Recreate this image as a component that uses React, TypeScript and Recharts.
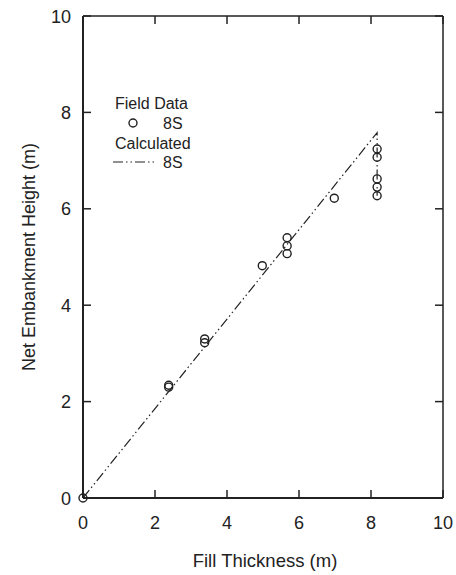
import {
  ScatterChart,
  Scatter,
  XAxis,
  YAxis,
  Legend,
} from "recharts";

// field data points (fill thickness m, net embankment height m)
const fieldX = [0, 2.38, 2.38, 3.38, 3.38, 4.98, 5.67, 5.67, 5.67, 6.98, 8.17, 8.17, 8.17, 8.17, 8.17];
const fieldY = [0, 2.34, 2.3, 3.22, 3.3, 4.82, 5.4, 5.23, 5.07, 6.22, 7.24, 7.07, 6.62, 6.45, 6.27];

// calculated curve
const calcX = [0, 8.17, 8.17];
const calcY = [0, 7.58, 6.27];

const axisTicks = [0, 2, 4, 6, 8, 10];

const INK = "#222";
const FONT = "'Liberation Sans', Arial, Helvetica, sans-serif";

const fieldData = fieldX.map((x, i) => ({ x, y: fieldY[i] }));
const calcData = calcX.map((x, i) => ({ x, y: calcY[i] }));

function BottomTick(props: any) {
  const { x, y, payload } = props;
  return (
    <g>
      <line x1={x} x2={x} y1={y} y2={y - 8} stroke={INK} strokeWidth={1.5} />
      <text x={x} y={y + 31} textAnchor="middle" fontSize={18} fill={INK} fontFamily={FONT}>
        {payload.value}
      </text>
    </g>
  );
}

function LeftTick(props: any) {
  const { x, y, payload } = props;
  return (
    <g>
      <line x1={x} x2={x + 8} y1={y} y2={y} stroke={INK} strokeWidth={1.5} />
      <text x={x - 12} y={y + 6.5} textAnchor="end" fontSize={18} fill={INK} fontFamily={FONT}>
        {payload.value}
      </text>
    </g>
  );
}

function TopTick(props: any) {
  const { x, y } = props;
  return <line x1={x} x2={x} y1={y} y2={y + 8} stroke={INK} strokeWidth={1.5} />;
}

function RightTick(props: any) {
  const { x, y } = props;
  return <line x1={x} x2={x - 8} y1={y} y2={y} stroke={INK} strokeWidth={1.5} />;
}

function Ring(props: any) {
  return <circle cx={props.cx} cy={props.cy} r={4} fill="none" stroke={INK} strokeWidth={1.4} />;
}

function LegendBox() {
  return (
    <svg width={100} height={85} style={{ overflow: "visible" }}>
      <g fontFamily={FONT} fontSize={16} fill={INK}>
        <text x={10} y={20}>Field Data</text>
        <circle cx={28} cy={34} r={4} fill="none" stroke={INK} strokeWidth={1.4} />
        <text x={58} y={40}>8S</text>
        <text x={10} y={60}>Calculated</text>
        <line x1={8} x2={50} y1={73} y2={73} stroke={INK} strokeWidth={1.2} strokeDasharray="10 3 1.5 3 1.5 3" />
        <text x={58} y={79}>8S</text>
      </g>
    </svg>
  );
}

export default function App() {
  return (
    <div style={{ position: "absolute", left: 0, top: 0, background: "#fff" }}>
      <ScatterChart
        width={456}
        height={575}
        margin={{ top: 15, right: 12, bottom: 0, left: 0 }}
      >
        <XAxis
          dataKey="x"
          type="number"
          domain={[0, 10]}
          ticks={axisTicks}
          height={77}
          tickSize={0}
          tickMargin={0}
          tickLine={false}
          tick={BottomTick}
          axisLine={{ stroke: INK, strokeWidth: 2 }}
          label={{
            content: (p: any) => (
              <text
                x={p.viewBox.x + p.viewBox.width / 2 + 2}
                y={567}
                textAnchor="middle"
                fontSize={18.5}
                fill={INK}
                fontFamily={FONT}
              >
                Fill Thickness (m)
              </text>
            ),
          }}
        />
        <YAxis
          dataKey="y"
          type="number"
          domain={[0, 10]}
          ticks={axisTicks}
          width={83}
          tickSize={0}
          tickMargin={0}
          tickLine={false}
          tick={LeftTick}
          axisLine={{ stroke: INK, strokeWidth: 2 }}
          label={{
            content: (p: any) => {
              const cy = p.viewBox.y + p.viewBox.height / 2;
              return (
                <text
                  x={29}
                  y={cy}
                  transform={`rotate(-90 29 ${cy})`}
                  textAnchor="middle"
                  dominantBaseline="central"
                  fontSize={18}
                  fill={INK}
                  fontFamily={FONT}
                >
                  Net Embankment Height (m)
                </text>
              );
            },
          }}
        />
        <XAxis
          xAxisId="top"
          dataKey="x"
          orientation="top"
          type="number"
          domain={[0, 10]}
          ticks={axisTicks}
          height={1}
          tickSize={0}
          tickMargin={0}
          tickLine={false}
          tick={TopTick}
          axisLine={{ stroke: INK, strokeWidth: 1.5 }}
        />
        <YAxis
          yAxisId="right"
          dataKey="y"
          orientation="right"
          type="number"
          domain={[0, 10]}
          ticks={axisTicks}
          width={1}
          tickSize={0}
          tickMargin={0}
          tickLine={false}
          tick={RightTick}
          axisLine={{ stroke: INK, strokeWidth: 1.5 }}
        />
        <Legend
          layout="horizontal"
          verticalAlign="middle"
          align="center"
          content={() => <LegendBox />}
          wrapperStyle={{ position: "absolute", left: 105, top: 89, width: 100 }}
        />
        <Scatter
          data={calcData}
          xAxisId="top"
          yAxisId="right"
          line={{ stroke: INK, strokeWidth: 1.2, strokeDasharray: "10 3 1.5 3 1.5 3" }}
          lineType="joint"
          shape={() => <g />}
          legendType="none"
          isAnimationActive={false}
        />
        <Scatter
          data={fieldData}
          shape={Ring}
          legendType="none"
          isAnimationActive={false}
        />
      </ScatterChart>
    </div>
  );
}
